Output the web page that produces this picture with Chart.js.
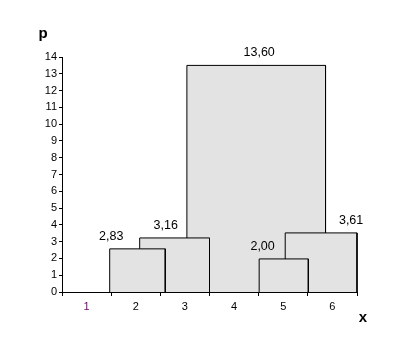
<!DOCTYPE html>
<html>
<head>
<meta charset="utf-8">
<script src="https://cdn.jsdelivr.net/npm/chart.js@4"></script>
<style>
html,body{margin:0;padding:0;background:#fff;}
#wrap{width:401px;height:357px;}
</style>
</head>
<body>
<div id="wrap"><canvas id="c" width="401" height="357"></canvas></div>
<script>
// ---- data ----
const xTickLabels = ['1', '2', '3', '4', '5', '6'];
const yMax = 14;
const binStart = [0.97, 1.58, 2.54, 4.01, 4.54];
const binEnd   = [2.10, 3.00, 5.36, 5.01, 6.00];
const binHeight = [2.57, 3.22, 13.50, 1.97, 3.52];
const valueLabels = ['2,83', '3,16', '13,60', '2,00', '3,61'];
const labelX = [1.00, 2.11, 4.01, 4.08, 5.88];
const stackOrder = [1, 2, 3, 1, 2]; // higher = further back

const FONT = "'Liberation Sans', Arial, sans-serif";

const datasets = binStart.map((s, i) => ({
  data: [
    {x: s, y: 0},
    {x: s, y: binHeight[i]},
    {x: binEnd[i], y: binHeight[i]},
    {x: binEnd[i], y: 0}
  ],
  showLine: true,
  fill: 'origin',
  backgroundColor: '#e3e3e3',
  borderColor: '#000',
  borderWidth: 1,
  pointRadius: 0,
  tension: 0,
  clip: false,
  order: stackOrder[i]
}));

const textPlugin = {
  id: 'texts',
  afterDatasetsDraw(chart) {
    const ctx = chart.ctx;
    const xs = chart.scales.x, ys = chart.scales.y;
    ctx.save();
    ctx.fillStyle = '#000';
    ctx.font = '12.5px ' + FONT;
    ctx.textAlign = 'center';
    ctx.textBaseline = 'middle';
    valueLabels.forEach((t, i) => {
      const px = xs.getPixelForValue(labelX[i]);
      const py = ys.getPixelForValue(binHeight[i]) - 12.5;
      ctx.fillText(t, px, py);
    });
    ctx.font = 'bold 15px ' + FONT;
    ctx.textBaseline = 'alphabetic';
    ctx.fillText('p', 43, 38);
    ctx.fillText('x', 363, 322);
    ctx.restore();
  }
};

new Chart(document.getElementById('c'), {
  type: 'scatter',
  data: { datasets },
  plugins: [textPlugin],
  options: {
    responsive: false,
    devicePixelRatio: 1,
    animation: false,
    layout: { padding: { top: 57, right: 44, left: 0, bottom: 0 } },
    plugins: { legend: { display: false }, tooltip: { enabled: false } },
    scales: {
      x: {
        type: 'linear',
        min: 0,
        max: xTickLabels.length,
        afterFit: s => { s.height = 65; },
        border: { color: '#000', width: 1 },
        grid: {
          drawOnChartArea: false,
          tickLength: 4,
          tickColor: c => (c.tick && Number.isInteger(c.tick.value)) ? '#000' : 'rgba(0,0,0,0)'
        },
        ticks: {
          stepSize: 0.5,
          autoSkip: false,
          maxRotation: 0,
          padding: 4,
          font: { family: FONT, size: 11 },
          color: c => (c.tick && c.tick.value === 0.5) ? '#700070' : '#000',
          callback: v => Number.isInteger(v) ? '' : xTickLabels[Math.floor(v)]
        }
      },
      y: {
        min: 0,
        max: yMax,
        afterFit: s => { s.width = 62; },
        border: { color: '#000', width: 1 },
        grid: { drawOnChartArea: false, tickLength: 3, tickColor: '#000' },
        ticks: {
          stepSize: 1,
          autoSkip: false,
          padding: 2,
          font: { family: FONT, size: 11 },
          color: '#000'
        }
      }
    }
  }
});
</script>
</body>
</html>
